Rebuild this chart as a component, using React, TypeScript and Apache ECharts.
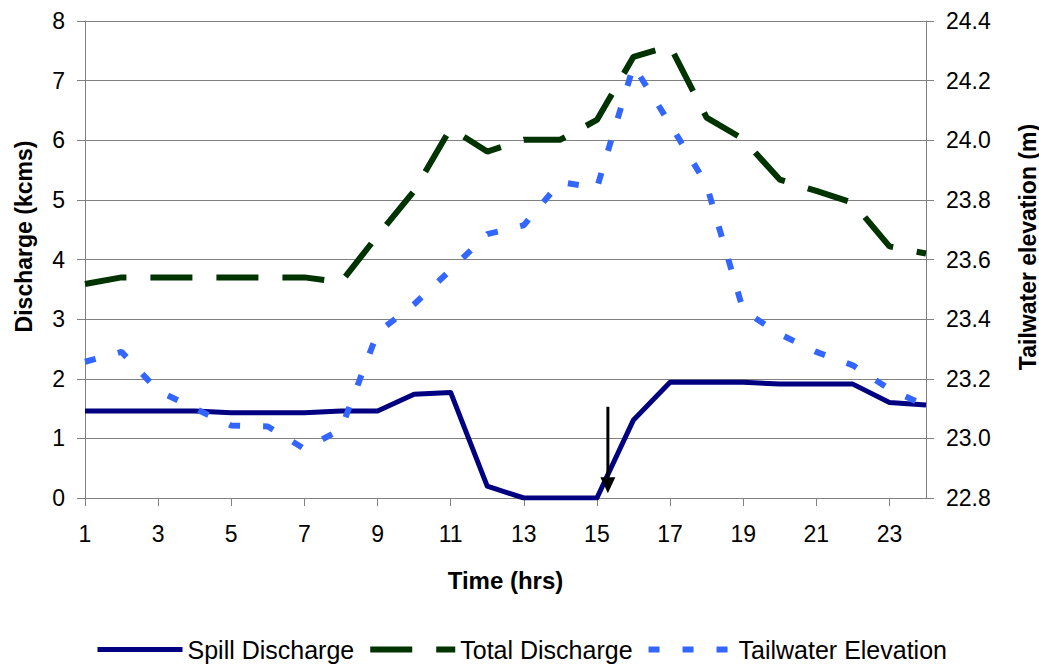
import React, { useEffect, useRef } from "react";
import * as echarts from "echarts";

const hours = ["1","2","3","4","5","6","7","8","9","10","11","12","13","14","15","16","17","18","19","20","21","22","23","24"];
const spillDischarge = [1.46,1.46,1.46,1.46,1.43,1.43,1.43,1.46,1.46,1.74,1.77,0.2,0,0,0,1.31,1.94,1.94,1.94,1.91,1.91,1.91,1.6,1.56];
const totalDischarge = [3.59,3.7,3.7,3.7,3.7,3.7,3.7,3.62,4.4,5.15,6.2,5.81,6.01,6.01,6.34,7.4,7.58,6.38,6.02,5.34,5.15,4.95,4.22,4.1];
const tailwaterElevation = [23.257,23.29,23.16,23.1,23.043,23.04,22.965,23.03,23.355,23.45,23.565,23.685,23.715,23.86,23.84,24.25,24.055,23.85,23.43,23.35,23.29,23.245,23.165,23.11];
const dischargeTicks = { min: 0, max: 8, interval: 1 };
const elevationTicks = { min: 22.8, max: 24.4, interval: 0.2 };
// annotation arrow (hour, discharge values)
const arrowHour = 15.3;
const arrowTopValue = 1.53;
const arrowTipValue = 0.08;

const FONT = '"Liberation Sans", Arial, sans-serif';
const GRID_COLOR = "#808080";

export default function App() {
  const ref = useRef<HTMLDivElement>(null);
  useEffect(() => {
    const chart = echarts.init(ref.current!, null, { renderer: "svg" });
    const option: any = {
      animation: false,
      backgroundColor: "#ffffff",
      textStyle: { fontFamily: FONT, color: "#000" },
      grid: { left: 85, right: 113, top: 21, bottom: 171, containLabel: false, outerBoundsMode: "none" },
      legend: {
        left: 95,
        top: 637,
        itemWidth: 85,
        itemHeight: 14,
        itemGap: 13,
        padding: 0,
        lineStyle: { width: "inherit" },
        itemStyle: { opacity: 0 },
        textStyle: { fontFamily: FONT, fontSize: 25, color: "#000" },
        data: ["Spill Discharge", "Total Discharge", "Tailwater Elevation"],
      },
      xAxis: {
        type: "category",
        data: hours,
        boundaryGap: false,
        name: "Time (hrs)",
        nameLocation: "middle",
        nameGap: 70,
        nameTextStyle: { fontFamily: FONT, fontSize: 24, fontWeight: "bold", color: "#000" },
        axisLine: { show: true, lineStyle: { color: GRID_COLOR, width: 1 } },
        axisTick: { show: true, interval: 1, length: 8, inside: false, lineStyle: { color: GRID_COLOR } },
        axisLabel: { interval: 1, fontSize: 23, fontFamily: FONT, color: "#000", margin: 24 },
        splitLine: { show: false },
      },
      yAxis: [
        {
          type: "value",
          min: dischargeTicks.min,
          max: dischargeTicks.max,
          interval: dischargeTicks.interval,
          name: "Discharge (kcms)",
          nameLocation: "middle",
          nameGap: 50,
          nameTextStyle: { fontFamily: FONT, fontSize: 23, fontWeight: "bold", color: "#000", padding: [0, 0, 0, 46] },
          axisLine: { show: true, lineStyle: { color: GRID_COLOR, width: 1 } },
          axisTick: { show: true, length: 8, lineStyle: { color: GRID_COLOR } },
          axisLabel: { fontSize: 23, fontFamily: FONT, color: "#000", margin: 20 },
          splitLine: { show: true, lineStyle: { color: GRID_COLOR, width: 1 } },
        },
        {
          type: "value",
          position: "right",
          min: elevationTicks.min,
          max: elevationTicks.max,
          interval: elevationTicks.interval,
          name: "Tailwater elevation (m)",
          nameLocation: "middle",
          nameGap: 90,
          nameTextStyle: { fontFamily: FONT, fontSize: 23, fontWeight: "bold", color: "#000", padding: [0, 0, 0, 25] },
          axisLine: { show: true, lineStyle: { color: GRID_COLOR, width: 1 } },
          axisTick: { show: true, length: 8, lineStyle: { color: GRID_COLOR } },
          axisLabel: { fontSize: 23, fontFamily: FONT, color: "#000", margin: 20, formatter: (v: number) => v.toFixed(1) },
          splitLine: { show: false },
        },
      ],
      series: [
        {
          name: "Spill Discharge",
          type: "line",
          yAxisIndex: 0,
          data: spillDischarge,
          symbol: "none",
          lineStyle: { color: "#000080", width: 5, cap: "butt", join: "round" },
          itemStyle: { color: "#000080" },
        },
        {
          name: "Total Discharge",
          type: "line",
          yAxisIndex: 0,
          data: totalDischarge,
          symbol: "none",
          lineStyle: { color: "#003300", width: 6, type: [42, 24], cap: "butt" },
          itemStyle: { color: "#003300" },
        },
        {
          name: "Tailwater Elevation",
          type: "line",
          yAxisIndex: 1,
          data: tailwaterElevation,
          symbol: "none",
          lineStyle: { color: "#3366FF", width: 6, type: [11, 23], cap: "butt" },
          itemStyle: { color: "#3366FF" },
        },
      ],
    };
    chart.setOption(option);

    const idx = arrowHour - 1;
    const i0 = Math.floor(idx);
    const f = idx - i0;
    const pTop0 = chart.convertToPixel({ xAxisIndex: 0, yAxisIndex: 0 }, [hours[i0], arrowTopValue]) as number[];
    const pTop1 = chart.convertToPixel({ xAxisIndex: 0, yAxisIndex: 0 }, [hours[i0 + 1], arrowTopValue]) as number[];
    const pTip = chart.convertToPixel({ xAxisIndex: 0, yAxisIndex: 0 }, [hours[i0], arrowTipValue]) as number[];
    const ax = pTop0[0] + f * (pTop1[0] - pTop0[0]);
    const ay1 = pTop0[1];
    const ay2 = pTip[1];
    const headLen = 16;
    const headHalf = 7.5;
    chart.setOption({
      graphic: [
        {
          type: "line",
          z: 100,
          shape: { x1: ax, y1: ay1, x2: ax, y2: ay2 - headLen + 2 },
          style: { stroke: "#000", lineWidth: 3 },
        },
        {
          type: "polygon",
          z: 100,
          shape: { points: [[ax - headHalf, ay2 - headLen], [ax + headHalf, ay2 - headLen], [ax, ay2]] },
          style: { fill: "#000" },
        },
      ],
    });
    return () => chart.dispose();
  }, []);
  return <div ref={ref} style={{ position: "fixed", left: 0, top: 0, width: 1039, height: 669 }} />;
}
